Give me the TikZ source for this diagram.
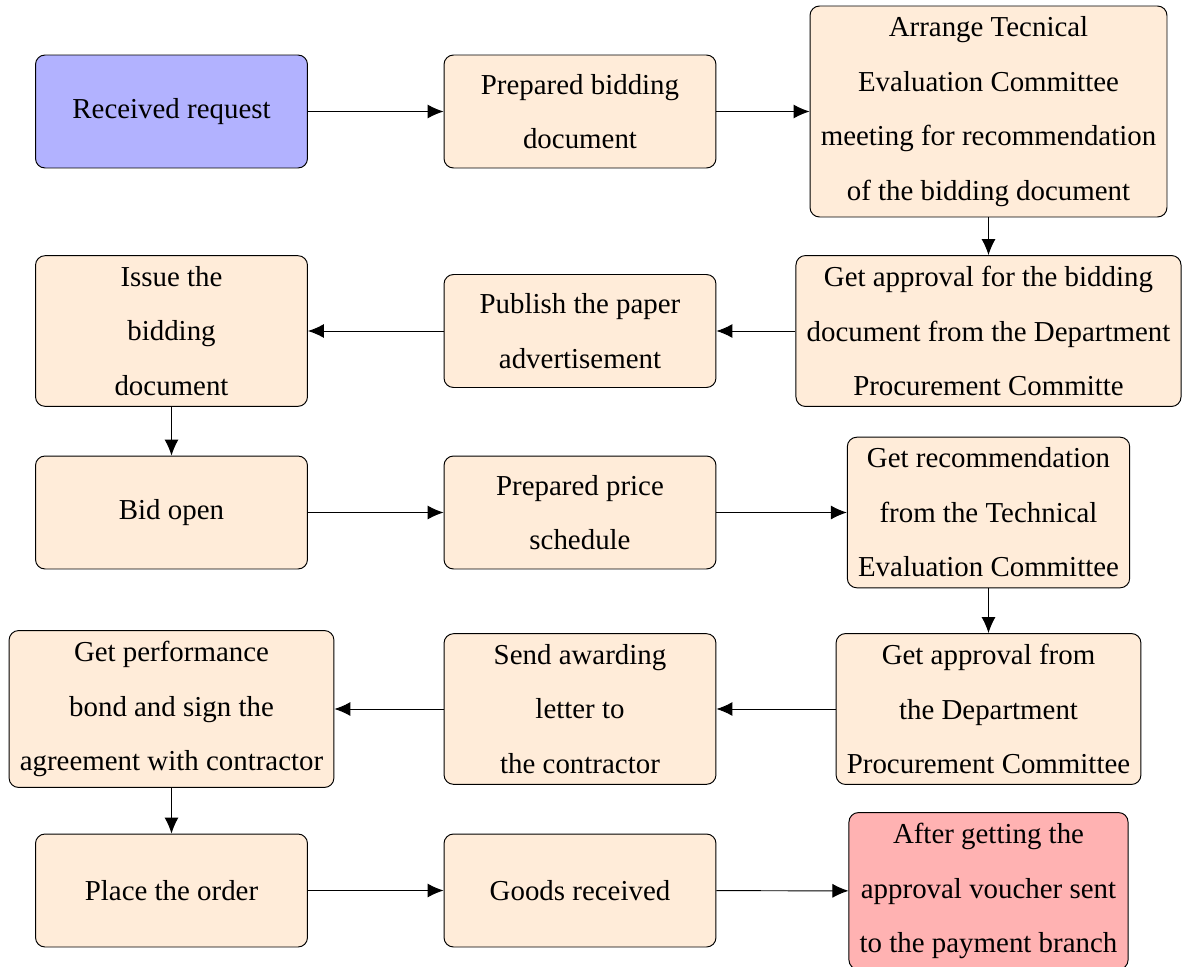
\documentclass[tikz,border=0pt]{standalone}
\usepackage{fontspec}
\setmainfont{Liberation Serif}
\usetikzlibrary{arrows.meta}

\begin{document}
\begin{tikzpicture}[
    x=0.02cm, y=-0.02cm,
    box/.style={draw=black, line width=0.55pt, rounded corners=0.19cm,
      minimum width=5.44cm, minimum height=2.26cm, inner sep=0.215cm,
      align=center, fill=orange!15,
      font=\fontsize{16.45pt}{30.96pt}\selectfont},
    startbox/.style={box, fill=blue!30},
    endbox/.style={box, fill=red!30},
    flow/.style={draw=black, line width=0.55pt,
      -{Latex[length=0.32cm, width=0.28cm]}}
  ]
  \useasboundingbox (0,0) rectangle (1187,967);

  % first row
  \node[startbox] (recv)    at (171.5,111.5) {Received request};
  \node[box]      (prep)    at (580,111.5)   {Prepared bidding\\document};
  \node[box]      (arrange) at (988.5,111.5) {Arrange Tecnical\\Evaluation Committee\\meeting for recommendation\\of the bidding document};

  % second row
  \node[box] (issue)   at (171.5,331) {Issue the\\bidding\\document};
  \node[box] (publish) at (580,331)   {Publish the paper\\advertisement};
  \node[box] (dpcbid)  at (988.5,331) {Get approval for the bidding\\document from the Department\\Procurement Committe};

  % third row
  \node[box] (bid)    at (171.5,512.5) {Bid open};
  \node[box] (price)  at (580,512.5)   {Prepared price\\schedule};
  \node[box] (tecrec) at (988.5,512.5) {Get recommendation\\from the Technical\\Evaluation Committee};

  % fourth row
  \node[box] (perf)   at (171.5,709) {Get performance\\bond and sign the\\agreement with contractor};
  \node[box] (award)  at (580,709)   {Send awarding\\letter to\\the contractor};
  \node[box] (dpcaw)  at (988.5,709) {Get approval from\\the Department\\Procurement Committee};

  % fifth row
  \node[box]    (order) at (171.5,890.5) {Place the order};
  \node[box]    (goods) at (580,890.5)   {Goods received};
  \node[endbox] (pay)   at (988.5,891)   {After getting the\\approval voucher sent\\to the payment branch};

  % connectors
  \draw[flow] (recv) -- (prep);
  \draw[flow] (prep) -- (arrange);
  \draw[flow] (arrange) -- (dpcbid);
  \draw[flow] (dpcbid) -- (publish);
  \draw[flow] (publish) -- (issue);
  \draw[flow] (issue) -- (bid);
  \draw[flow] (bid) -- (price);
  \draw[flow] (price) -- (tecrec);
  \draw[flow] (tecrec) -- (dpcaw);
  \draw[flow] (dpcaw) -- (award);
  \draw[flow] (award) -- (perf);
  \draw[flow] (perf) -- (order);
  \draw[flow] (order) -- (goods);
  \draw[flow] (goods) -- (pay);
\end{tikzpicture}
\end{document}
